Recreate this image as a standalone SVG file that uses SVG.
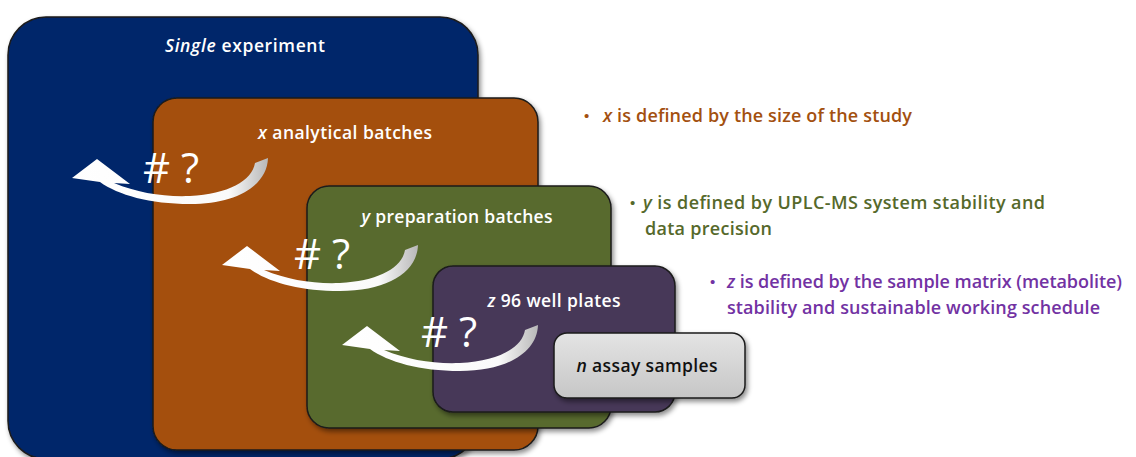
<svg xmlns="http://www.w3.org/2000/svg" width="1136" height="457" viewBox="0 0 1136 457">
<defs>
<style>
.lbl{font-family:"Open Sans","Liberation Sans",sans-serif;font-weight:600;font-size:17.5px;fill:#ffffff;text-anchor:middle}
.dark{fill:#111111}
.q{font-family:"Open Sans","Liberation Sans",sans-serif;font-size:42px;fill:#ffffff}
.note{font-family:"Open Sans","Liberation Sans",sans-serif;font-weight:600;font-size:18px}
.bul{font-family:"Liberation Sans",sans-serif;font-size:15px}
.it{font-style:italic}
.box{stroke:#1b1b1b;stroke-width:1.5;filter:url(#sh)}
</style>
<filter id="sh" x="-10%" y="-10%" width="130%" height="130%">
<feDropShadow dx="2" dy="3" stdDeviation="2.5" flood-color="#000" flood-opacity="0.45"/>
</filter>
<linearGradient id="gGray" x1="0" y1="0" x2="0" y2="1">
<stop offset="0" stop-color="#e4e4e4"/>
<stop offset="1" stop-color="#c6c6c6"/>
</linearGradient>
<linearGradient id="gArr" x1="0" y1="0" x2="1" y2="0">
<stop offset="0" stop-color="#ffffff"/>
<stop offset="0.8" stop-color="#fafafa"/>
<stop offset="1" stop-color="#b8b8b8"/>
</linearGradient>
<path id="arr" d="M72,178 L97,159 L130,184 L114,183 C138,193 163,197 190,196 C228,194 252,181 255,163 L268,158 C267,186 236,204 190,204 C150,204 118,195 100,182 Z" fill="url(#gArr)"/>
</defs>
<rect width="1136" height="457" fill="#ffffff"/>

<g id="node-experiment">
<rect class="box" x="8" y="17" width="470" height="442" rx="38" fill="#04256a"/>
<text class="lbl" x="245" y="52" textLength="160" lengthAdjust="spacing"><tspan class="it">Single</tspan> experiment</text>
</g>

<g id="node-analytical">
<rect class="box" x="153" y="98" width="385" height="352" rx="24" fill="#a4500d"/>
<text class="lbl" x="345" y="139" textLength="174" lengthAdjust="spacing"><tspan class="it">x</tspan> analytical batches</text>
</g>

<g id="node-preparation">
<rect class="box" x="307" y="186" width="304" height="242" rx="22" fill="#596b2f"/>
<text class="lbl" x="457" y="223" textLength="191" lengthAdjust="spacing"><tspan class="it">y</tspan> preparation batches</text>
</g>

<g id="node-plates">
<rect class="box" x="433" y="266" width="242" height="146" rx="20" fill="#463858"/>
<text class="lbl" x="554" y="307" textLength="133" lengthAdjust="spacing"><tspan class="it">z</tspan> 96 well plates</text>
</g>

<g id="node-samples">
<rect class="box" x="554" y="333" width="191" height="65" rx="13" fill="url(#gGray)"/>
<text class="lbl dark" x="647" y="372" textLength="141" lengthAdjust="spacing"><tspan class="it">n</tspan> assay samples</text>
</g>

<g id="connectors">
<use href="#arr"/>
<text class="q" x="143" y="183"># ?</text>
<use href="#arr" transform="translate(150,87)"/>
<text class="q" x="294" y="269"># ?</text>
<use href="#arr" transform="translate(270,167)"/>
<text class="q" x="421" y="347"># ?</text>
</g>

<g id="notes">
<text class="bul" x="584" y="121" fill="#a3500f">•</text>
<text class="note" x="603" y="122" fill="#a3500f" textLength="309" lengthAdjust="spacing"><tspan class="it">x</tspan> is defined by the size of the study</text>
<text class="bul" x="630" y="208" fill="#56692b">•</text>
<text class="note" x="643" y="209" fill="#56692b" textLength="402" lengthAdjust="spacing"><tspan class="it">y</tspan> is defined by UPLC-MS system stability and</text>
<text class="note" x="645" y="235" fill="#56692b" textLength="127" lengthAdjust="spacing">data precision</text>
<text class="bul" x="710" y="287" fill="#7232a3">•</text>
<text class="note" x="727" y="288" fill="#7232a3" textLength="395" lengthAdjust="spacing"><tspan class="it">z</tspan> is defined by the sample matrix (metabolite)</text>
<text class="note" x="727" y="314" fill="#7232a3" textLength="373" lengthAdjust="spacing">stability and sustainable working schedule</text>
</g>
</svg>
